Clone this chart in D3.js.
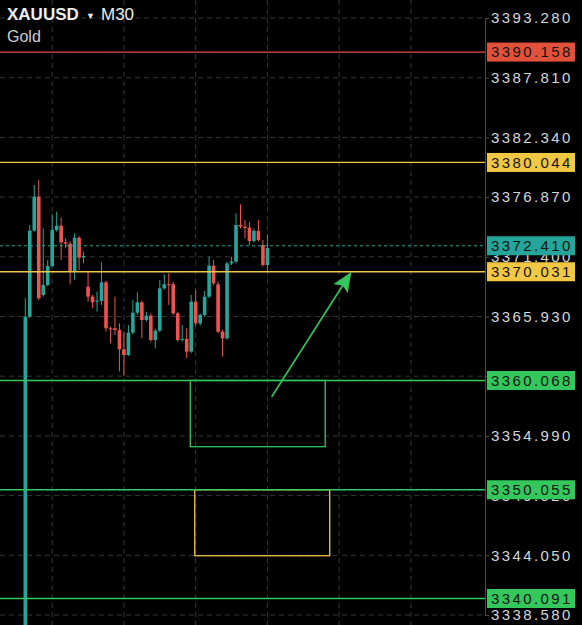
<!DOCTYPE html>
<html>
<head>
<meta charset="utf-8">
<script src="https://cdn.jsdelivr.net/npm/d3@7"></script>
<style>
  html, body { margin: 0; padding: 0; background: #000; }
  svg { display: block; }
  .tick text { font-family: "Liberation Sans", Arial, sans-serif; }
</style>
</head>
<body>
<div id="chart"></div>
<script>

const config = {
    width: 582,
    height: 625,
    axisX: 485,
}

// M30 candles, oldest first
const candleOpen  = [3335.00,3365.92,3373.80,3376.91,3367.90,3368.82,3370.56,3373.86,3374.25,3372.73,
                     3372.60,3370.04,3373.15,3371.35,3368.66,3367.75,3367.29,3367.35,3369.06,3364.85,
                     3364.85,3364.70,3362.92,3362.40,3364.45,3366.28,3367.23,3365.61,3366.01,3363.78,
                     3364.63,3368.51,3368.88,3368.88,3366.22,3363.78,3363.87,3362.71,3367.29,3365.30,
                     3366.07,3367.75,3370.59,3368.88,3364.54,3363.93,3370.80,3370.96,3374.31,3374.16,
                     3374.07,3372.85,3373.77,3372.48,3370.65]
const candleHigh  = [3367.60,3374.31,3377.98,3378.44,3374.00,3371.11,3375.30,3375.54,3374.99,3373.09,
                     3372.80,3373.55,3373.30,3371.87,3370.04,3367.90,3368.21,3370.89,3369.20,3365.00,
                     3367.75,3365.30,3364.54,3365.15,3367.44,3368.15,3367.40,3366.37,3366.22,3364.80,
                     3369.28,3369.79,3369.89,3369.10,3366.37,3365.15,3364.85,3367.90,3368.36,3366.20,
                     3368.27,3371.41,3371.11,3369.12,3364.70,3370.96,3371.41,3375.38,3376.21,3374.77,
                     3374.62,3374.00,3374.77,3372.94,3373.40]
const candleLow   = [3334.00,3365.80,3373.70,3367.44,3367.75,3368.70,3370.40,3373.70,3371.11,3372.18,
                     3368.88,3369.28,3370.19,3370.80,3367.29,3366.68,3366.37,3366.99,3364.54,3363.47,
                     3364.24,3360.90,3360.50,3362.30,3364.30,3366.10,3363.93,3365.46,3363.60,3363.01,
                     3364.50,3368.40,3366.99,3366.07,3363.63,3363.63,3362.10,3362.60,3365.10,3365.10,
                     3365.90,3367.60,3368.80,3364.40,3362.25,3363.80,3370.65,3370.80,3374.00,3373.10,
                     3372.48,3372.70,3372.80,3370.50,3370.00]
const candleClose = [3365.92,3373.80,3376.91,3367.60,3368.82,3370.56,3373.86,3374.25,3372.73,3372.60,
                     3370.04,3373.15,3371.32,3371.47,3367.75,3367.23,3367.38,3369.06,3364.85,3364.75,
                     3364.70,3362.92,3362.40,3364.45,3366.28,3367.23,3365.61,3366.01,3363.78,3364.63,
                     3368.51,3368.88,3368.82,3366.22,3363.78,3363.88,3362.71,3367.29,3365.30,3366.07,
                     3367.75,3370.59,3368.97,3364.54,3363.93,3370.80,3370.96,3374.31,3374.16,3374.05,
                     3372.85,3373.77,3372.94,3370.65,3372.20]

// price axis ticks
const priceTicks = [3393.28,3387.81,3382.34,3376.87,3371.40,3365.93,3360.46,3354.99,3349.52,3344.05,3338.58]
// time grid (bar index)
const timeGrid = [-10, 6, 22, 38, 54, 70, 86]

// drawn levels
const levelPrices = [3390.158, 3380.044, 3370.031, 3360.068, 3350.055, 3340.091]
const levelColors = ["#e2513a", "#f2c744", "#f2c744", "#33c75c", "#33c75c", "#33c75c"]
const currentPrice = 3372.410

// zones: bar index from/to, price top/bottom
const zoneX0     = [36.8, 37.8]
const zoneX1     = [66.9, 67.9]
const zoneTop    = [3360.068, 3350.055]
const zoneBottom = [3354.00, 3344.01]
const zoneColors = ["#33c75c", "#f2c744"]

// arrow: bar index / price of tail and tip
const arrowFrom = [54.96, 3358.58]
const arrowTo   = [72.6, 3369.94]

const up = "#26a69a"
const down = "#ef5350"

const x = d3.scaleLinear().domain([0, 54]).range([25.3, 267.4])
const y = d3.scaleLinear().domain([3338.58, 3393.28]).range([615, 18])

const svg = d3.select('#chart').append('svg')
    .attr("width", config.width).attr("height", config.height)
    .style("background", "#000")

svg.append("defs").append("marker")
    .attr("id", "arrowHead")
    .attr("markerUnits", "userSpaceOnUse")
    .attr("markerWidth", 22).attr("markerHeight", 18)
    .attr("refX", 19).attr("refY", 8.5)
    .attr("orient", "auto")
    .append("path")
    .attr("d", "M0,0 L20,8.5 L0,17 L4,8.5 Z")
    .attr("fill", "#33c75c")

const plot = svg.append("g")

//grid
plot.selectAll("line.hgrid")
    .data(priceTicks)
    .enter().append("line")
    .attr("class", "hgrid")
    .attr("x1", 0).attr("x2", config.axisX)
    .attr("y1", d => y(d)).attr("y2", d => y(d))
    .attr("stroke", "#363636")
    .attr("stroke-dasharray", "5 4")

plot.selectAll("line.vgrid")
    .data(timeGrid)
    .enter().append("line")
    .attr("class", "vgrid")
    .attr("x1", d => x(d)).attr("x2", d => x(d))
    .attr("y1", 0).attr("y2", config.height)
    .attr("stroke", "#363636")
    .attr("stroke-dasharray", "5 4")

// candles
const candles = d3.range(candleOpen.length).map(i => ({
    i: i, o: candleOpen[i], h: candleHigh[i], l: candleLow[i], c: candleClose[i]
}))

plot.selectAll("line.wick")
    .data(candles)
    .enter().append("line")
    .attr("class", "wick")
    .attr("x1", d => x(d.i)).attr("x2", d => x(d.i))
    .attr("y1", d => y(d.h)).attr("y2", d => y(d.l))
    .attr("stroke", d => d.c >= d.o ? up : down)
    .attr("stroke-width", 1)

plot.selectAll("rect.body")
    .data(candles)
    .enter().append("rect")
    .attr("class", "body")
    .attr("x", d => x(d.i) - 1.8)
    .attr("width", 3.6)
    .attr("y", d => y(Math.max(d.o, d.c)))
    .attr("height", d => Math.max(1, Math.abs(y(d.o) - y(d.c))))
    .attr("fill", d => d.c >= d.o ? up : down)

// zones
plot.selectAll("rect.zone")
    .data(zoneTop)
    .enter().append("rect")
    .attr("class", "zone")
    .attr("x", (d, i) => x(zoneX0[i]))
    .attr("width", (d, i) => x(zoneX1[i]) - x(zoneX0[i]))
    .attr("y", d => y(d))
    .attr("height", (d, i) => y(zoneBottom[i]) - y(d))
    .attr("fill", "none")
    .attr("stroke", (d, i) => zoneColors[i])
    .attr("stroke-width", 1.3)

// level lines
plot.selectAll("line.level")
    .data(levelPrices)
    .enter().append("line")
    .attr("class", "level")
    .attr("x1", 0).attr("x2", config.axisX + 3)
    .attr("y1", d => y(d)).attr("y2", d => y(d))
    .attr("stroke", (d, i) => levelColors[i])
    .attr("stroke-width", 1.3)

plot.append("line")
    .attr("x1", 0).attr("x2", config.axisX)
    .attr("y1", y(currentPrice)).attr("y2", y(currentPrice))
    .attr("stroke", up)
    .attr("stroke-dasharray", "3 3")

// arrow
plot.append("line")
    .attr("x1", x(arrowFrom[0])).attr("y1", y(arrowFrom[1]))
    .attr("x2", x(arrowTo[0])).attr("y2", y(arrowTo[1]))
    .attr("stroke", "#33c75c")
    .attr("stroke-width", 1.6)
    .attr("marker-end", "url(#arrowHead)")

// price axis
svg.append("rect")
    .attr("x", config.axisX).attr("y", 0)
    .attr("width", config.width - config.axisX).attr("height", config.height)
    .attr("fill", "#000")

const axisRight = d3.axisRight(y).tickValues(priceTicks).tickFormat(d3.format(".3f")).tickSize(4).tickPadding(2)

const axisG = svg.append("g")
    .attr("transform", `translate(${config.axisX},0)`)
    .call(axisRight)
axisG.select(".domain").attr("stroke", "#4a4a4a")
axisG.selectAll(".tick line").attr("stroke", "#4a4a4a")
axisG.selectAll(".tick text")
    .attr("fill", "#d6d6d6")
    .style("font-size", "15px")
    .style("letter-spacing", "2.4px")

// price tags
const tags = levelPrices.map((p, i) => ({ p: p, color: levelColors[i] }))
tags.push({ p: currentPrice, color: up })

const tagG = svg.selectAll("g.tag")
    .data(tags)
    .enter().append("g")
    .attr("class", "tag")
    .attr("transform", d => `translate(${config.axisX + 2},${y(d.p)})`)

tagG.append("rect")
    .attr("x", 0).attr("y", -9.5)
    .attr("width", 88).attr("height", 19)
    .attr("fill", d => d.color)

tagG.append("text")
    .attr("x", 4).attr("y", 0)
    .attr("dy", "0.35em")
    .attr("fill", "#141414")
    .style("font-family", "'Liberation Sans', Arial, sans-serif")
    .style("font-size", "15px")
    .style("letter-spacing", "2.4px")
    .text(d => d3.format(".3f")(d.p))

// title
const title = svg.append("g").style("font-family", "'Liberation Sans', Arial, sans-serif")
title.append("text")
    .attr("x", 7).attr("y", 20)
    .attr("fill", "#ededed")
    .style("font-size", "17px")
    .style("font-weight", "600")
    .text("XAUUSD")
title.append("text")
    .attr("x", 86).attr("y", 19)
    .attr("fill", "#ededed")
    .style("font-size", "9px")
    .text("▼")
title.append("text")
    .attr("x", 101).attr("y", 20)
    .attr("fill", "#ededed")
    .style("font-size", "17px")
    .text("M30")
title.append("text")
    .attr("x", 7).attr("y", 42)
    .attr("fill", "#cfcfcf")
    .style("font-size", "16px")
    .text("Gold")

</script>
</body>
</html>
